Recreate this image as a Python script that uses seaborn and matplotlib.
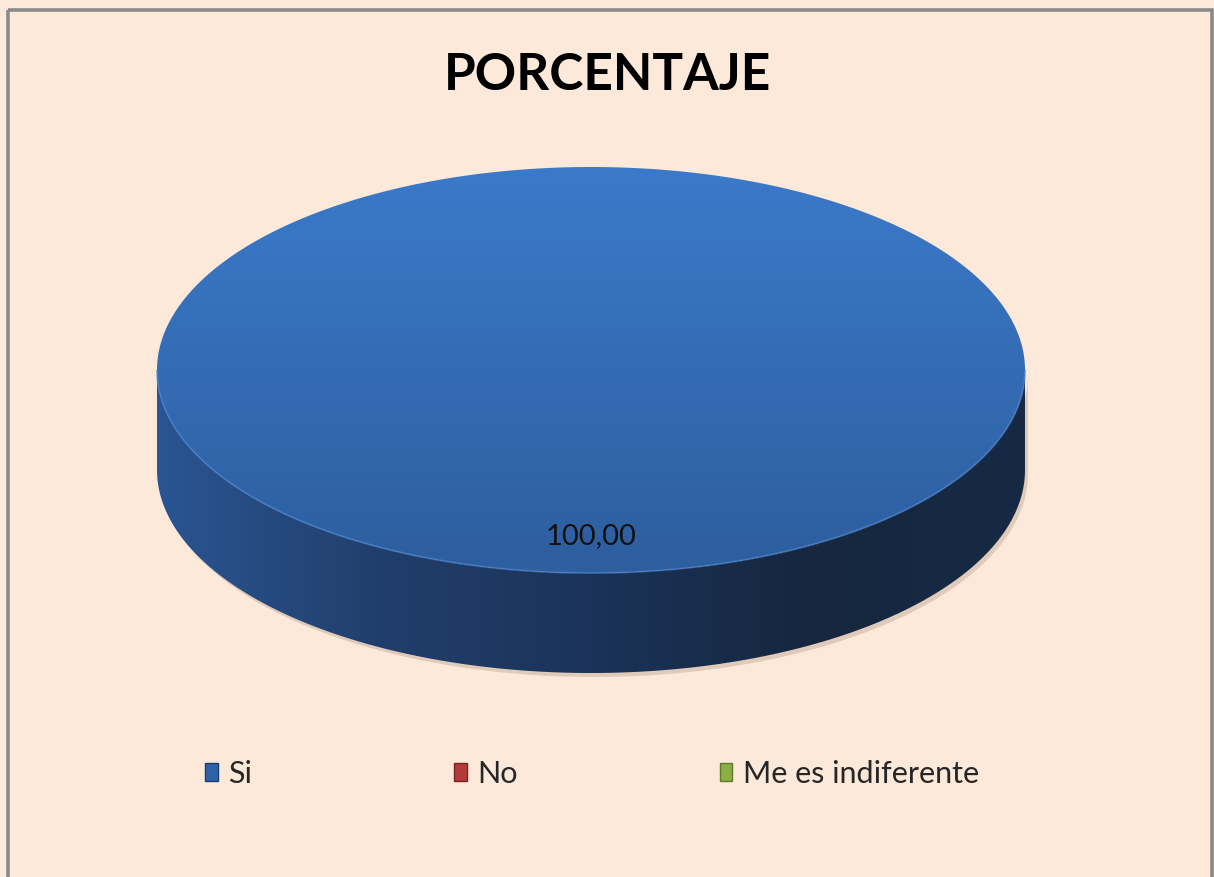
import numpy as np
import matplotlib
matplotlib.use("Agg")
import matplotlib.pyplot as plt
from matplotlib.patches import Polygon, Rectangle, Patch
import seaborn as sns

# chart data
title = "PORCENTAJE"
categories = ["Si", "No", "Me es indiferente"]
values = [100.0, 0.0, 0.0]
legend_colors = ["#2F63A9", "#B23B39", "#8BAF45"]
legend_edges = ["#1C3D6B", "#7A2220", "#5E7A2A"]

# top / side shading per category (light -> dark)
top_shades = [["#3B7ACA", "#2D5E9E"], ["#C0504D", "#9A3532"], ["#9BBB59", "#76903E"]]
side_shades = [["#2A5592", "#213F6C", "#1B335A", "#16273F", "#172A45"],
               ["#8F2F2D", "#742321", "#5E1B1A", "#4C1514", "#5A1A19"],
               ["#6F8F38", "#5B772D", "#4A6224", "#3C4F1D", "#475C22"]]

W, H = 1214, 877
bg = "#FDE9D9"

sns.set_theme(style="white")
plt.rcParams["font.family"] = ["Lato", "DejaVu Sans"]

fig = plt.figure(figsize=(W / 100, H / 100), dpi=100)
fig.patch.set_facecolor(bg)
ax = fig.add_axes([0, 0, 1, 1])
ax.set_facecolor(bg)
ax.set_axis_off()

# outer frame
ax.add_patch(Rectangle((8, 10), W - 10, H + 5, fill=False, edgecolor="#8A8A8A", lw=2.6, zorder=1))

# pie geometry (pixel space, y down)
cx, cy, rx, ry, depth = 591, 370, 434, 203, 100


def ell(t):
    return cx + rx * np.cos(t), cy - ry * np.sin(t)


total = sum(values)
cum = 0.0
label_pos = []
for i, v in enumerate(values):
    if v <= 0:
        cum += v
        continue
    a1 = np.pi / 2 - 2 * np.pi * cum / total
    a2 = np.pi / 2 - 2 * np.pi * (cum + v) / total
    cum += v
    t = np.linspace(a1, a2, 720)

    # side wall (front facing part only)
    front = np.sin(t) < 0
    idx = np.where(front)[0]
    if len(idx):
        splits = np.split(idx, np.where(np.diff(idx) > 1)[0] + 1)
        cmap_side = sns.blend_palette(side_shades[i], n_colors=256, as_cmap=True)
        for seg in splits:
            xs, ys = ell(t[seg])
            pts = np.vstack([np.column_stack([xs, ys]),
                             np.column_stack([xs[::-1], ys[::-1] + depth])])
            # soft shadow under the wall
            sh = Polygon(np.vstack([np.column_stack([xs + 3, ys + 4]),
                                    np.column_stack([xs[::-1] + 3, ys[::-1] + depth + 4])]),
                         closed=True, facecolor="#C9B2A2", edgecolor="none", alpha=0.55, zorder=2)
            ax.add_patch(sh)
            poly = Polygon(pts, closed=True, facecolor="none", edgecolor="none", zorder=3)
            ax.add_patch(poly)
            grad = np.linspace(0, 1, 256).reshape(1, -1)
            im = ax.imshow(grad, cmap=cmap_side, aspect="auto", zorder=3,
                           extent=(cx - rx, cx + rx, cy + ry + depth + 2, cy - 2))
            im.set_clip_path(poly)

    # top face
    xs, ys = ell(t)
    pts = np.column_stack([xs, ys])
    if v < total:
        pts = np.vstack([[cx, cy], pts])
    poly = Polygon(pts, closed=True, facecolor="none", edgecolor="none", zorder=4)
    ax.add_patch(poly)
    cmap_top = sns.blend_palette(top_shades[i], n_colors=256, as_cmap=True)
    grad = np.linspace(0, 1, 256).reshape(-1, 1)
    im = ax.imshow(grad, cmap=cmap_top, aspect="auto", zorder=4, origin="upper",
                   extent=(cx - rx, cx + rx, cy + ry, cy - ry))
    im.set_clip_path(poly)
    # rim highlight
    fx, fy = ell(t[front])
    ax.plot(fx, fy, color="#4A84CF", lw=1.4, alpha=0.6, zorder=5)

    mid = (a1 + a2) / 2
    if v == total:
        lx, ly = cx, cy + ry * 0.82
    else:
        lx, ly = cx + 0.6 * rx * np.cos(mid), cy - 0.6 * ry * np.sin(mid)
    label_pos.append((lx, ly, f"{v:.2f}".replace(".", ",")))

for lx, ly, s in label_pos:
    ax.text(lx, ly, s, ha="center", va="center", fontsize=21, color="#111111", zorder=6)

ax.set_xlim(0, W)
ax.set_ylim(H, 0)

fig.text(0.5, 1 - 76 / H, title, ha="center", va="center", fontsize=37,
         fontweight="bold", color="#000000")

handles = [Patch(facecolor=c, edgecolor=e, lw=1) for c, e in zip(legend_colors, legend_edges)]
fig.legend(handles, categories, loc="center", bbox_to_anchor=(592 / W, 1 - 774 / H), ncol=3,
           frameon=False, fontsize=22, handlelength=0.42, handleheight=0.55,
           handletextpad=0.35, columnspacing=6.6)

fig.savefig("out.png", dpi=100, facecolor=bg)
